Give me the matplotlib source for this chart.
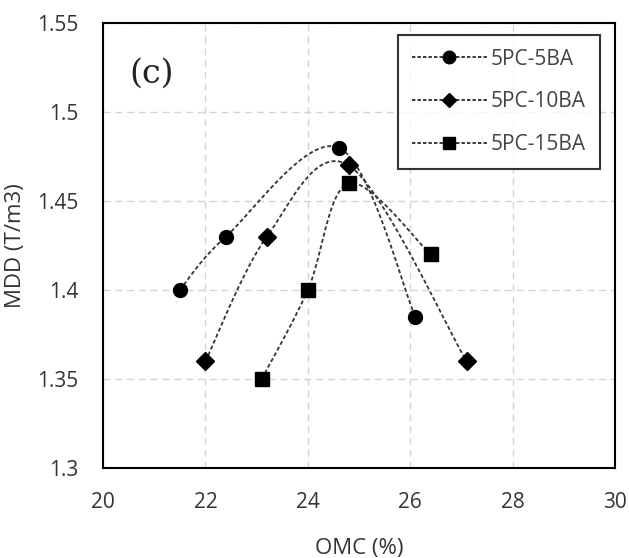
import numpy as np
import matplotlib
matplotlib.use("Agg")
import matplotlib.pyplot as plt

# data
x_5ba = [21.5, 22.4, 24.6, 26.1]
y_5ba = [1.40, 1.43, 1.48, 1.385]
x_10ba = [22.0, 23.2, 24.8, 27.1]
y_10ba = [1.36, 1.43, 1.47, 1.36]
x_15ba = [23.1, 24.0, 24.8, 26.4]
y_15ba = [1.35, 1.40, 1.46, 1.42]
labels = ["5PC-5BA", "5PC-10BA", "5PC-15BA"]
markers = ["o", "D", "s"]
marker_sizes = [10, 9, 10]
legend_sizes = [9, 7.5, 8.5]


# Excel-style smoothed line (bezier through the points)
def smooth(xs, ys, n=30):
    p = np.column_stack([xs, ys])
    pts = np.vstack([p[0], p, p[-1]])
    out = []
    for i in range(1, len(pts) - 2):
        p0, p1, p2, p3 = pts[i - 1], pts[i], pts[i + 1], pts[i + 2]
        c1 = p1 + (p2 - p0) / 6
        c2 = p2 - (p3 - p1) / 6
        t = np.linspace(0, 1, n)[:, None]
        seg = ((1 - t) ** 3) * p1 + 3 * ((1 - t) ** 2) * t * c1 + 3 * (1 - t) * t ** 2 * c2 + t ** 3 * p2
        out.append(seg)
    s = np.vstack(out)
    return s[:, 0], s[:, 1]


plt.rcParams['font.family'] = ['Open Sans', 'DejaVu Sans']
fig = plt.figure(figsize=(6.29, 5.58), dpi=100)
ax = fig.add_axes([0.1638, 0.1613, 0.8140, 0.7975])

dash = (0, (2.2, 1.4))
series = [(x_5ba, y_5ba), (x_10ba, y_10ba), (x_15ba, y_15ba)]
for (xs, ys), lab, m, ms, lms in zip(series, labels, markers, marker_sizes, legend_sizes):
    sx, sy = smooth(xs, ys)
    ax.plot(sx, sy, color="#333333", linestyle=dash, linewidth=1.3)
    ax.plot(xs, ys, linestyle="none", marker=m, markersize=ms, color="black")
    # legend proxy
    ax.plot([], [], color="black", linestyle=dash, linewidth=1.1,
            marker=m, markersize=lms, label=lab)

ax.set_xlim(20, 30)
ax.set_ylim(1.3, 1.55)
ax.set_xticks([20, 22, 24, 26, 28, 30])
ax.set_yticks([1.3, 1.35, 1.4, 1.45, 1.5, 1.55])
ax.set_yticklabels(["1.3", "1.35", "1.4", "1.45", "1.5", "1.55"])
ax.tick_params(length=0, labelsize=15, colors="#333333")
ax.tick_params(axis="x", pad=17)
ax.tick_params(axis="y", pad=18)
ax.grid(True, color="#d4d4d4", linestyle=(0, (5, 3.5)), linewidth=1.0)
for sp in ax.spines.values():
    sp.set_linewidth(1.5)
    sp.set_color("black")

ax.set_xlabel("OMC (%)", fontsize=16, color="#333333", labelpad=18)
ax.set_ylabel("MDD (T/m3)", fontsize=16, color="#333333", labelpad=8)

ax.text(0.052, 0.885, "(c)", transform=ax.transAxes, fontsize=24,
        family="DejaVu Serif", va="center", ha="left", color="#222222")

leg = ax.legend(loc="upper right", bbox_to_anchor=(0.97, 0.973), fontsize=15,
                handlelength=3.6, frameon=True, fancybox=False, edgecolor="black",
                labelspacing=1.05, borderpad=0.65, handletextpad=0.2,
                borderaxespad=0.0)
leg.get_frame().set_linewidth(1.5)
for t in leg.get_texts():
    t.set_color("#444444")

fig.savefig("out.png", dpi=100)
